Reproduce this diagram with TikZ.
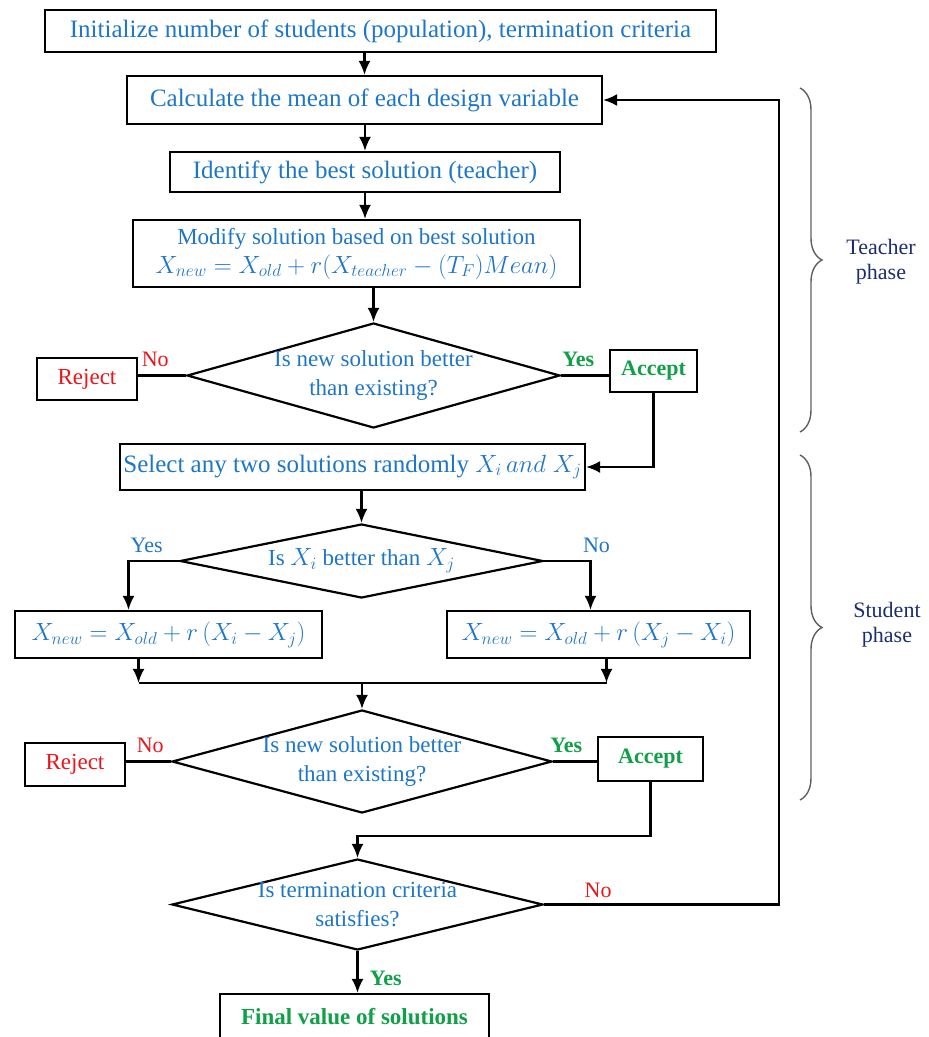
\documentclass[tikz,border=0pt]{standalone}
\usepackage{fontspec}
\setmainfont{Liberation Serif}
\usetikzlibrary{shapes.geometric,arrows.meta,decorations.pathreplacing}
\definecolor{tblue}{RGB}{30,118,200}
\definecolor{tred}{RGB}{235,20,25}
\definecolor{tgreen}{RGB}{16,160,72}
\definecolor{tnavy}{RGB}{28,46,112}
\definecolor{bracegray}{RGB}{95,95,95}

\tikzset{
  box/.style={draw, line width=2.2pt, inner sep=1pt, align=center, text=tblue, font=\fontsize{25}{29}\selectfont},
  decision/.style={draw, diamond, line width=2.2pt, inner sep=0pt},
  qtext/.style={align=center, text=tblue, font=\fontsize{23}{29}\selectfont},
  outbox/.style={draw, line width=2.2pt, inner sep=1pt},
  arr/.style={line width=2.2pt, -{Latex[length=14pt,width=12pt]}},
  conn/.style={line width=2.2pt},
  nolab/.style={text=tred, font=\fontsize{22}{24}\selectfont},
  yeslab/.style={text=tgreen, font=\fontsize{22}{24}\selectfont\bfseries},
  bluelab/.style={text=tblue, font=\fontsize{22}{24}\selectfont},
  brlab/.style={text=tnavy, align=center, font=\fontsize{22}{25}\selectfont},
  phase/.style={decorate, decoration={brace, amplitude=22pt}, line width=1.4pt, draw=bracegray}
}

\begin{document}
\begin{tikzpicture}[x=1pt, y=-1pt]
\useasboundingbox (0,0) rectangle (929,1037);

% teacher phase
\node[box, minimum width=671pt, minimum height=42pt] (init) at (380.5,31) {Initialize number of students (population), termination criteria};
\node[box, minimum width=475pt, minimum height=48pt] (mean) at (364.5,100) {Calculate the mean of each design variable};
\node[box, minimum width=390pt, minimum height=40pt] (best) at (365,172) {Identify the best solution (teacher)};
\node[box, font=\fontsize{23}{29}\selectfont, minimum width=447pt, minimum height=67pt] (modify) at (356.5,253.5) {Modify solution based on best solution\\$X_{new}=X_{old}+r(X_{teacher}-(T_F)Mean)$};
\node[decision, minimum width=373pt, minimum height=105pt, label={[qtext]center:Is new solution better\\than existing?}] (check1) at (373.5,375.5) {};
\node[outbox, text=tred, font=\fontsize{23}{26}\selectfont, minimum width=100pt, minimum height=42pt] (reject1) at (87,379) {Reject};
\node[outbox, text=tgreen, font=\fontsize{22}{26}\selectfont\bfseries, minimum width=87pt, minimum height=42pt] (accept1) at (653.5,371) {Accept};

\draw[arr] (init.south -| mean.north) -- (mean.north);
\draw[arr] (mean.south -| best.north) -- (best.north);
\draw[arr] (best.south) -- (best.south |- modify.north);
\draw[arr] (modify.south -| check1.north) -- (check1.north);
\draw[conn] (reject1.east |- check1.west) -- (check1.west) node[nolab, pos=0.36, above=4pt] {No};
\draw[conn] (check1.east) -- (check1.east -| accept1.west) node[yeslab, pos=0.36, above=4pt] {Yes};

% student phase
\node[box, minimum width=465pt, minimum height=46pt] (select) at (352.5,467) {Select any two solutions randomly $X_i\,and\;X_j$};
\node[decision, minimum width=363pt, minimum height=74pt, label={[qtext]center:Is $X_i$ better than $X_j$}] (compare) at (361.5,561) {};
\node[box, minimum width=307pt, minimum height=47pt] (updL) at (168.5,634.5) {$X_{new}=X_{old}+r\left(X_i-X_j\right)$};
\node[box, minimum width=303pt, minimum height=47pt] (updR) at (598.5,634.5) {$X_{new}=X_{old}+r\left(X_j-X_i\right)$};
\node[decision, minimum width=380pt, minimum height=103pt, label={[qtext]center:Is new solution better\\than existing?}] (check2) at (362,761.5) {};
\node[outbox, text=tred, font=\fontsize{23}{26}\selectfont, minimum width=100pt, minimum height=43pt] (reject2) at (75,764.5) {Reject};
\node[outbox, text=tgreen, font=\fontsize{22}{26}\selectfont\bfseries, minimum width=105pt, minimum height=44pt] (accept2) at (650.5,759) {Accept};

\draw[arr] (accept1.south) |- (select.east);
\draw[arr] (select.south -| compare.north) -- (compare.north);
\draw[arr] (compare.west) -| node[bluelab, pos=0.32, above=4pt] {Yes} ([xshift=-40pt]updL.north);
\draw[arr] (compare.east) -| node[bluelab, pos=0.5, above=4pt, xshift=6pt] {No} ([xshift=-8pt]updR.north);
\path (check2.north) ++(0,-26) coordinate (merge);
\draw[arr] ([xshift=-30pt]updL.south) -- ([xshift=-30pt]updL.south |- merge);
\draw[arr] ([xshift=8pt]updR.south) -- ([xshift=8pt]updR.south |- merge);
\draw[conn] ([xshift=-30pt]updL.south |- merge) -- ([xshift=8pt]updR.south |- merge);
\draw[arr] (merge) -- (check2.north);
\draw[conn] (reject2.east |- check2.west) -- (check2.west) node[nolab, pos=0.54, above=4pt] {No};
\draw[conn] (check2.east) -- (check2.east -| accept2.west) node[yeslab, pos=0.3, above=4pt] {Yes};

% termination
\node[decision, minimum width=371pt, minimum height=91pt, label={[qtext]center:Is termination criteria\\satisfies?}] (stop) at (357.5,904.5) {};
\node[outbox, text=tgreen, font=\fontsize{23}{26}\selectfont\bfseries, minimum width=269pt, minimum height=46pt] (final) at (354.5,1017) {Final value of solutions};

\draw[arr] (accept2.south) -- ++(0,54) -| (stop.north);
\draw[arr] (stop.east) -- ++(235,0) node[nolab, pos=0.23, above=2pt] {No} |- (mean.east);
\draw[arr] (stop.south) -- (stop.south |- final.north) node[yeslab, pos=0.65, right=8pt] {Yes};

% phase braces
\draw[phase] (800,88) -- (800,432);
\draw[phase] (800,455) -- (800,800);
\node[brlab] (teacher) at (881,262) {Teacher\\phase};
\node[brlab] (student) at (887,625) {Student\\phase};
\end{tikzpicture}
\end{document}
